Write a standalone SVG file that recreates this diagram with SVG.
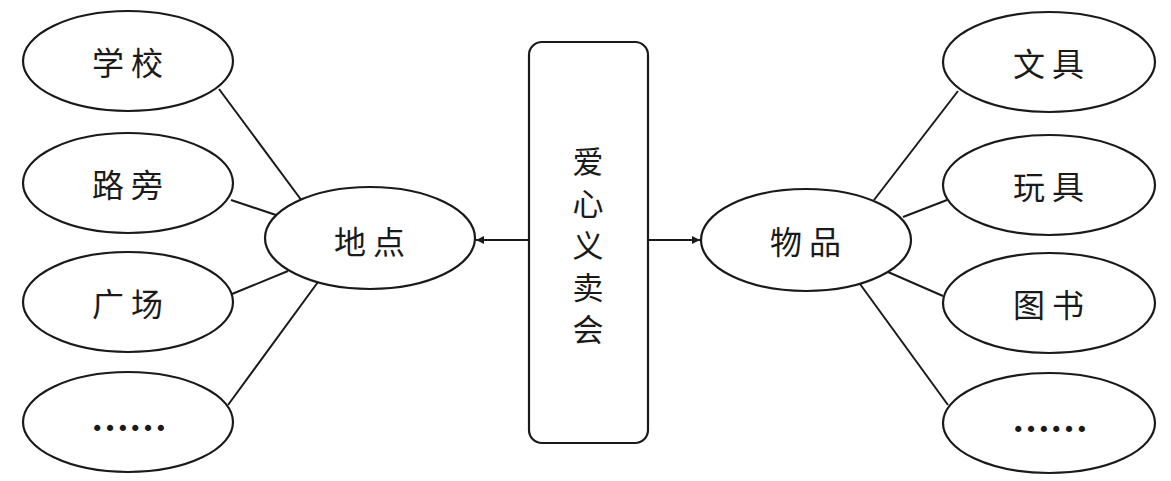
<svg xmlns="http://www.w3.org/2000/svg" width="1171" height="481" viewBox="0 0 1171 481">
<style>
.n{fill:#fff;stroke:#1a1a1a;stroke-width:2.2}
.t{font-family:"Noto Sans CJK SC","Noto Sans CJK JP",sans-serif;font-size:32px;fill:#1a1a1a;text-anchor:middle;dominant-baseline:central;letter-spacing:7px}
.v{font-family:"Noto Sans CJK SC","Noto Sans CJK JP",sans-serif;font-size:31px;fill:#1a1a1a;writing-mode:vertical-rl;text-orientation:upright;letter-spacing:11px}
.d{font-family:"Liberation Serif",serif;font-size:38px;font-weight:bold;fill:#1a1a1a;text-anchor:middle}
.c{stroke:#1a1a1a;stroke-width:2;fill:none}
</style>
<defs>
<marker id="ah" viewBox="0 0 10 10" refX="10" refY="5" markerWidth="11" markerHeight="8" markerUnits="userSpaceOnUse" orient="auto">
<path d="M0,0 L10,5 L0,10 z" fill="#1a1a1a"/>
</marker>
</defs>
<rect width="1171" height="481" fill="#fff"/>
<g id="connectors">
<line class="c" x1="219" y1="89" x2="302" y2="201"/>
<line class="c" x1="231" y1="200" x2="276" y2="215"/>
<line class="c" x1="232" y1="294" x2="288" y2="271"/>
<line class="c" x1="228" y1="405" x2="318" y2="282"/>
<line class="c" x1="958" y1="91" x2="874" y2="200"/>
<line class="c" x1="947" y1="200" x2="903" y2="217"/>
<line class="c" x1="888" y1="272" x2="943" y2="296"/>
<line class="c" x1="860" y1="284" x2="948" y2="405"/>
<line class="c" x1="529" y1="240" x2="476" y2="240" marker-end="url(#ah)"/>
<line class="c" x1="648" y1="240" x2="700" y2="240" marker-end="url(#ah)"/>
</g>
<g id="n-xuexiao"><ellipse class="n" cx="128" cy="61" rx="105" ry="50"/><text class="t" x="131" y="61">学校</text></g>
<g id="n-lupang"><ellipse class="n" cx="128" cy="183" rx="105" ry="50"/><text class="t" x="131" y="183">路旁</text></g>
<g id="n-guangchang"><ellipse class="n" cx="128" cy="302" rx="105" ry="50"/><text class="t" x="131" y="302">广场</text></g>
<g id="n-left-more"><ellipse class="n" cx="128" cy="422" rx="105" ry="50"/><text class="d" x="129" y="431">……</text></g>
<g id="n-didian"><ellipse class="n" cx="370" cy="238" rx="105" ry="51"/><text class="t" x="373" y="240">地点</text></g>
<g id="n-center"><rect class="n" x="529" y="42" width="119" height="401" rx="13"/>
<text class="v" x="588" y="146">爱心义卖会</text>
</g>
<g id="n-wupin"><ellipse class="n" cx="806" cy="240" rx="105" ry="51"/><text class="t" x="809" y="240">物品</text></g>
<g id="n-wenju"><ellipse class="n" cx="1049" cy="62" rx="106" ry="50"/><text class="t" x="1052" y="62">文具</text></g>
<g id="n-wanju"><ellipse class="n" cx="1049" cy="185" rx="106" ry="50"/><text class="t" x="1052" y="185">玩具</text></g>
<g id="n-tushu"><ellipse class="n" cx="1049" cy="303" rx="106" ry="50"/><text class="t" x="1052" y="303">图书</text></g>
<g id="n-right-more"><ellipse class="n" cx="1049" cy="423" rx="106" ry="50"/><text class="d" x="1050" y="432">……</text></g>
</svg>
